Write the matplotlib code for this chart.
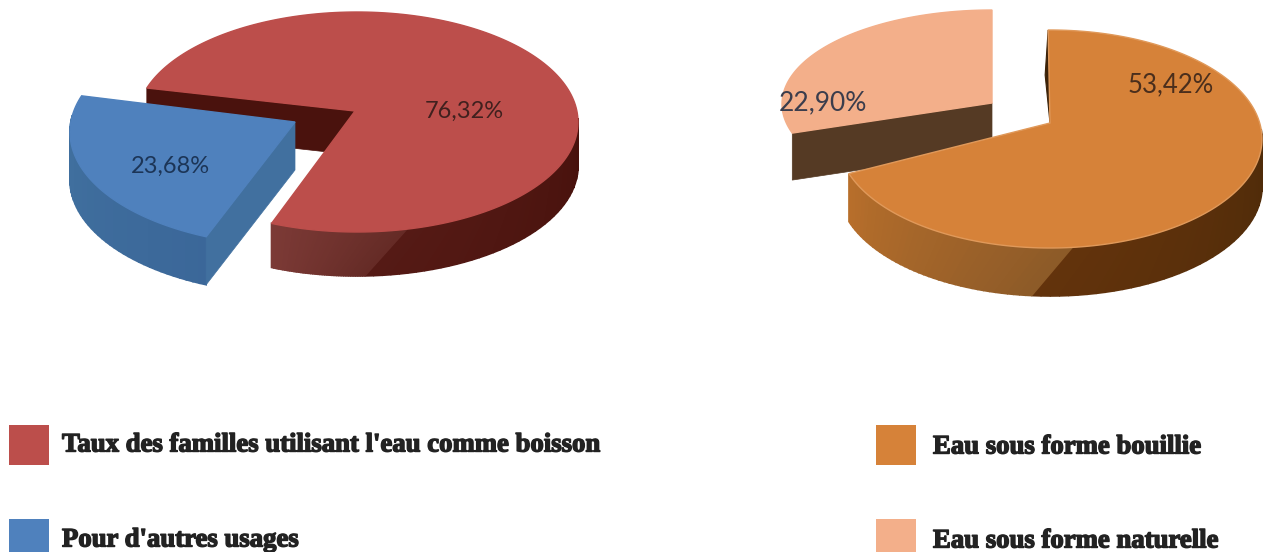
#!/usr/bin/env python3
"""Two exploded pseudo-3D pies with a hand-made legend under each."""

import numpy as np
import matplotlib
matplotlib.use("Agg")
import matplotlib.pyplot as plt
import matplotlib.patheffects as pe
from matplotlib.colors import to_rgb
from matplotlib.patches import Polygon, Rectangle

# ── Data ─────────────────────────────────────────────────────────────────────
LEFT_LABELS = ["Taux des familles utilisant l'eau comme boisson", "Pour d'autres usages"]
LEFT_VALUES = [76.32, 23.68]
LEFT_TEXT = ["76,32%", "23,68%"]

RIGHT_LABELS = ["Eau sous forme bouillie", "Eau sous forme naturelle"]
RIGHT_VALUES = [53.42, 22.90]
RIGHT_TEXT = ["53,42%", "22,90%"]

RED = "#bc4e4b"
BLUE = "#4f81bd"
ORANGE = "#d68239"
PEACH = "#f3af8a"


def ell(g, t, depth=0.0):
    """Point(s) on the pie's ellipse, t in degrees, y pointing down."""
    t = np.radians(t)
    return np.column_stack([g["cx"] + g["rx"] * np.cos(t),
                            g["cy"] - g["ry"] * np.sin(t) + depth])


def face(ax, g, t0, t1, color, edge=None, z=5):
    ts = np.linspace(t0, t1, 200)
    pts = np.vstack([[g["apex"]], ell(g, ts)])
    ax.add_patch(Polygon(pts, closed=True, fc=color, ec=edge or color, lw=1.0, zorder=z))


def blend(c0, c1, f):
    return tuple((1 - f) * a + f * b for a, b in zip(to_rgb(c0), to_rgb(c1)))


def rim_part(ax, g, top0, top1, low0, low1, c0, c1, z, n=40):
    for i in range(n):
        a, b = i / n, (i + 1) / n
        top = [top0 + (top1 - top0) * a, top0 + (top1 - top0) * b]
        low = [low0 + (low1 - low0) * a, low0 + (low1 - low0) * b]
        pts = np.vstack([ell(g, top), ell(g, low[::-1], g["depth"])])
        col = blend(c0, c1, a)
        ax.add_patch(Polygon(pts, fc=col, ec=col, lw=1.2, zorder=z))


def rim(ax, g, t_start, t_mid, t_mid_low, t_end, light, dark, z=3):
    """Outer wall: gradient part from t_start to a slanted seam, then dark part."""
    rim_part(ax, g, t_mid, t_end, t_mid_low, t_end, dark[0], dark[1], z)
    rim_part(ax, g, t_start, t_mid, t_start, t_mid_low, light[0], light[1], z)


def wall(ax, g, t, color, z=3):
    """Flat cut face between the apex and the rim point at angle t."""
    p = ell(g, [t])[0]
    a = np.array(g["apex"], dtype=float)
    d = np.array([0, g["depth"]])
    ax.add_patch(Polygon([p, a, a + d, p + d], fc=color, ec=color, lw=0.5, zorder=z))


fig = plt.figure(figsize=(12.63, 5.52), dpi=100)
ax = fig.add_axes([0, 0, 1, 1])
ax.set_xlim(0, 1263)
ax.set_ylim(552, 0)
ax.axis("off")

# ── Left pie ─────────────────────────────────────────────────────────────────
g1 = dict(cx=357, cy=122, rx=221, ry=110, apex=(355, 111), depth=44)
start = 162.0
sweep = LEFT_VALUES[0] / sum(LEFT_VALUES) * 360
end = start - sweep  # clockwise

wall(ax, g1, start, "#4a120d", z=2)
rim(ax, g1, end + 360, 283, 272, 362, ("#7c3a36", "#652b26"), ("#551a15", "#47110c"))
face(ax, g1, start, end, RED, z=4)

g1b = dict(cx=295, cy=132, rx=225, ry=114, apex=(295, 122), depth=48)
start_b = 161.5
end_b = start_b + LEFT_VALUES[1] / sum(LEFT_VALUES) * 360
rim(ax, g1b, start_b + 10, end_b, end_b, end_b, ("#41719f", "#3b6799"),
    ("#3b6799", "#3b6799"), z=5)
wall(ax, g1b, end_b, "#41709f", z=5)
face(ax, g1b, start_b, end_b, BLUE, z=6)

ax.text(464, 111, LEFT_TEXT[0], family="Lato", fontsize=17, color="#40201e",
        ha="center", va="center", zorder=9)
ax.text(170, 166, LEFT_TEXT[1], family="Lato", fontsize=17, color="#1c3557",
        ha="center", va="center", zorder=9)

# ── Right pie ────────────────────────────────────────────────────────────────
g2 = dict(cx=1050, cy=139, rx=212, ry=109, apex=(1050, 123), depth=48)
start2 = 90.5
sweep2 = RIGHT_VALUES[0] / sum(RIGHT_VALUES) * 360
end2 = start2 - sweep2

g2b = dict(cx=992, cy=104, rx=210, ry=94, apex=(992, 103), depth=47)
start2b = 90.0
end2b = start2b + RIGHT_VALUES[1] / sum(RIGHT_VALUES) * 360
wall(ax, g2b, end2b, "#553a24", z=1)
face(ax, g2b, start2b, end2b, PEACH, z=2)

rim(ax, g2, end2 + 360, 276, 265, 365, ("#b86f2b", "#8c5a28"), ("#63330c", "#4e2b09"), z=3)
p = ell(g2, [start2])[0]
ax.add_patch(Polygon([p, g2["apex"], (p[0] - 3, p[1] + 45)], fc="#3c2208", ec="#3c2208",
                     lw=0.8, zorder=3))
face(ax, g2, start2, end2, ORANGE, edge="#e0995a", z=4)

ax.text(1171, 85, RIGHT_TEXT[0], family="Lato", fontsize=18.5, color="#4a2e1c",
        ha="center", va="center", zorder=9)
ax.text(823, 103, RIGHT_TEXT[1], family="Lato", fontsize=19, color="#3b3d4c",
        ha="center", va="center", zorder=9)

# ── Legends ──────────────────────────────────────────────────────────────────
stroke = [pe.withStroke(linewidth=1.0, foreground="#222222")]
legend_rows = [
    (9, 425, 62, 445, RED, LEFT_LABELS[0]),
    (9, 519, 62, 540, BLUE, LEFT_LABELS[1]),
    (876, 425, 933, 447, ORANGE, RIGHT_LABELS[0]),
    (876, 519, 933, 541, PEACH, RIGHT_LABELS[1]),
]
for bx, by, tx, ty, col, lab in legend_rows:
    ax.add_patch(Rectangle((bx, by), 40, 40, fc=col, ec="none"))
    ax.text(tx, ty, lab, family="Liberation Serif", weight="bold", fontsize=19.25,
            color="#222222", ha="left", va="center", path_effects=stroke)

fig.savefig("out.png", dpi=100)
plt.close(fig)
